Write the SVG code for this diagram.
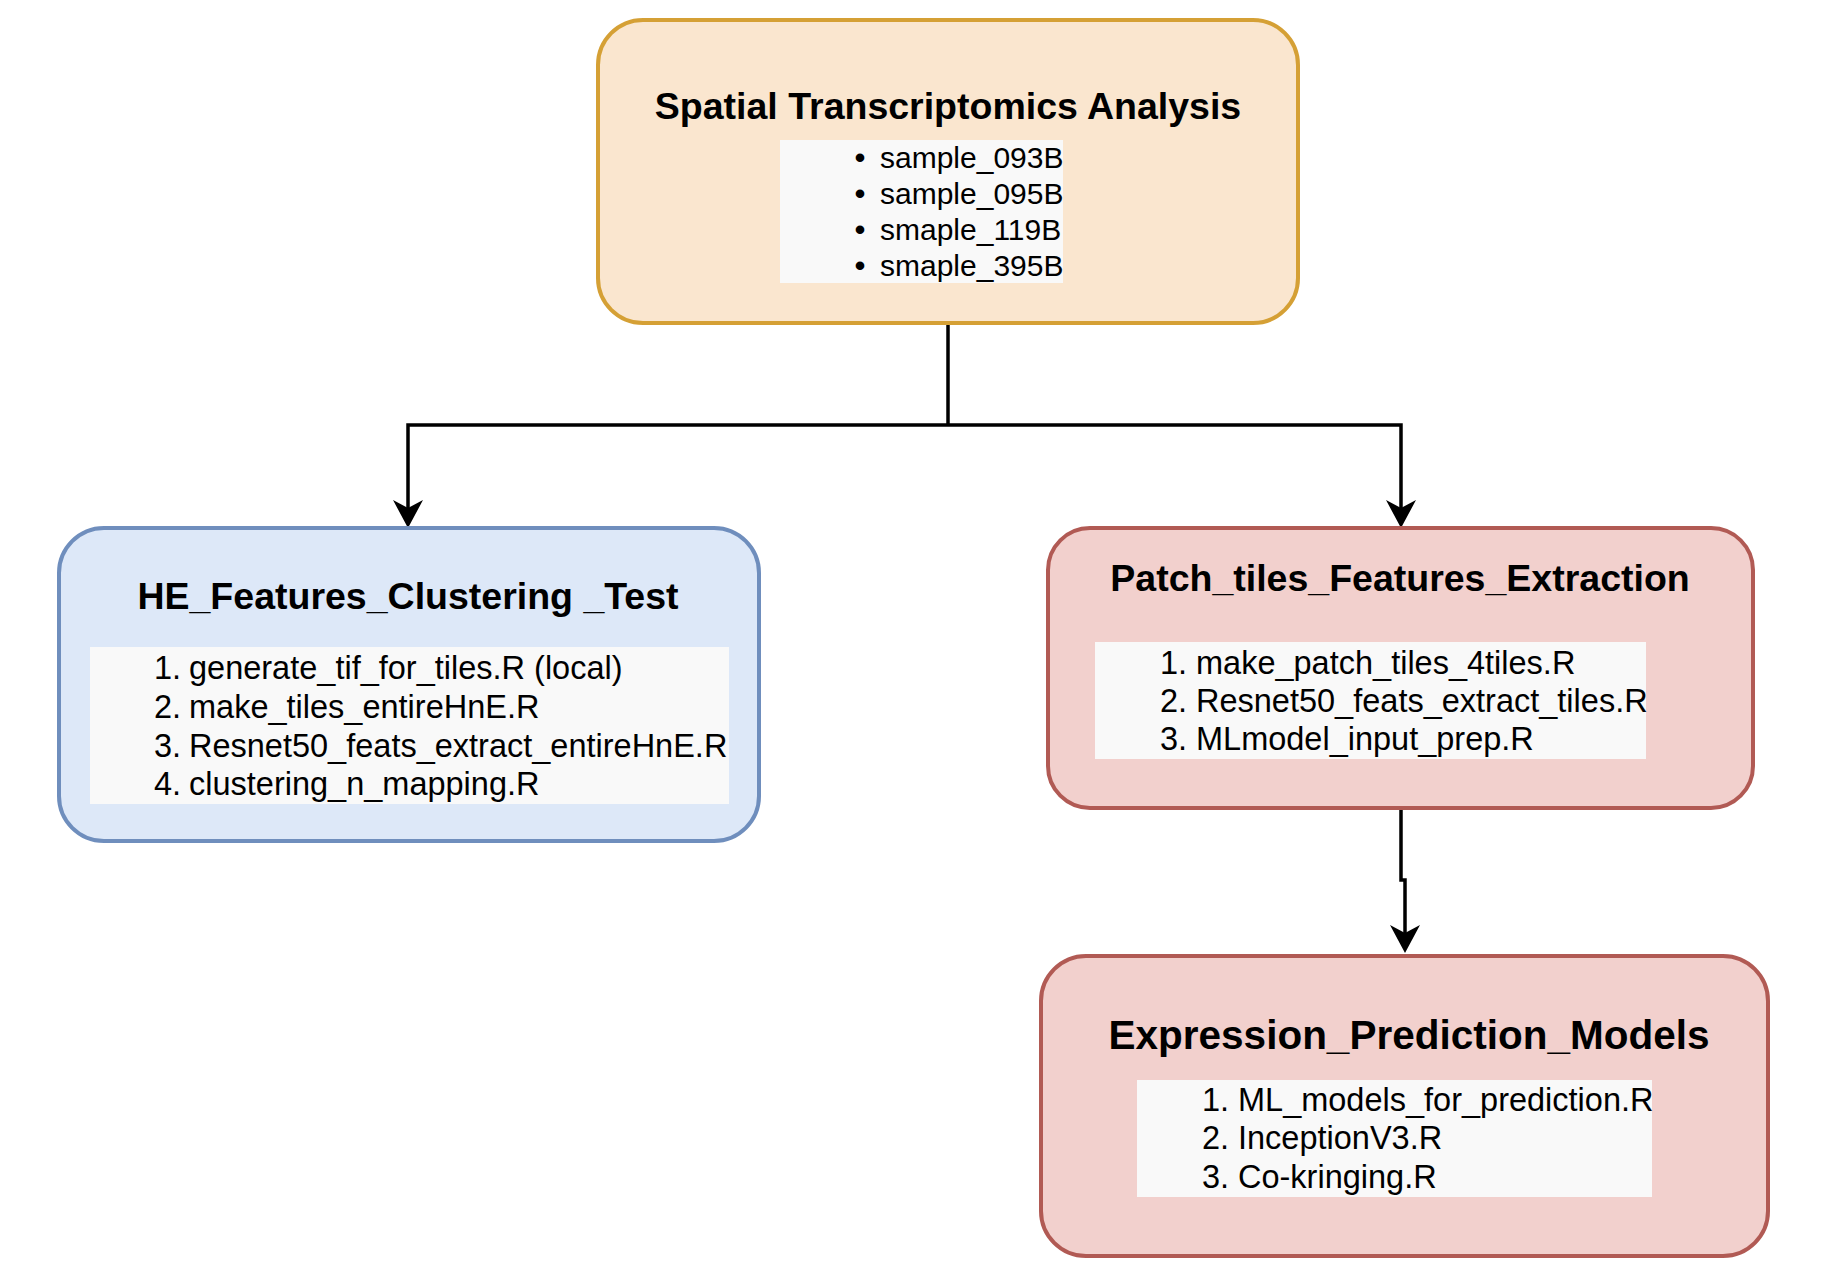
<svg xmlns="http://www.w3.org/2000/svg" width="1840" height="1274" viewBox="0 0 1840 1274">
<defs>
<style>
.title{font-family:"Liberation Sans",Arial,Helvetica,sans-serif;font-weight:bold;font-size:37.5px;fill:#000;text-anchor:middle}
.title-lg{font-size:40.5px}
.item{font-family:"Liberation Sans",Arial,Helvetica,sans-serif;font-size:30px;fill:#000}
.num{font-family:"Liberation Sans",Arial,Helvetica,sans-serif;font-size:30px;fill:#000;text-anchor:end}
.bullet{font-family:"Liberation Sans",Arial,Helvetica,sans-serif;font-size:30px;font-weight:bold;fill:#000;text-anchor:middle}
.lg{font-size:32.5px}
.listbox{fill:#f9f9f9;stroke:none}
.orange{fill:#fae6cf;stroke:#d5a035;stroke-width:4}
.blue{fill:#dde8f8;stroke:#6f8ebd;stroke-width:4}
.red{fill:#f2d0cd;stroke:#b15a54;stroke-width:4}
.edge{fill:none;stroke:#000;stroke-width:3.5}
</style>
<marker id="arrow" viewBox="0 0 28 30" refX="8" refY="15" markerWidth="28" markerHeight="30" markerUnits="userSpaceOnUse" orient="auto">
<path d="M0,0 L28,15 L0,30 L8,15 Z" fill="#000"/>
</marker>
</defs>
<rect width="1840" height="1274" fill="#fff"/>
<g id="connectors">
<path class="edge" d="M948,323 V425"/>
<path class="edge" d="M948,425 H408 V508" marker-end="url(#arrow)"/>
<path class="edge" d="M948,425 H1401 V508" marker-end="url(#arrow)"/>
<path class="edge" d="M1401,808 V880 H1405 V933" marker-end="url(#arrow)"/>
</g>
<g id="node-spatial">
<rect class="orange" x="598" y="20" width="700" height="303" rx="45" ry="45"/>
<text class="title" x="948" y="119">Spatial Transcriptomics Analysis</text>
<rect class="listbox" x="780" y="140" width="283" height="143"/>
<text class="bullet" x="860" y="168">•</text><text class="item" x="880" y="168">sample_093B</text>
<text class="bullet" x="860" y="204">•</text><text class="item" x="880" y="204">sample_095B</text>
<text class="bullet" x="860" y="240">•</text><text class="item" x="880" y="240">smaple_119B</text>
<text class="bullet" x="860" y="276">•</text><text class="item" x="880" y="276">smaple_395B</text>
</g>
<g id="node-he">
<rect class="blue" x="59" y="528" width="700" height="313" rx="45" ry="45"/>
<text class="title" x="408" y="609">HE_Features_Clustering _Test</text>
<rect class="listbox" x="90" y="647" width="639" height="157"/>
<text class="num lg" x="181" y="679">1.</text><text class="item lg" x="189" y="679">generate_tif_for_tiles.R (local)</text>
<text class="num lg" x="181" y="718">2.</text><text class="item lg" x="189" y="718">make_tiles_entireHnE.R</text>
<text class="num lg" x="181" y="757">3.</text><text class="item lg" x="189" y="757">Resnet50_feats_extract_entireHnE.R</text>
<text class="num lg" x="181" y="795">4.</text><text class="item lg" x="189" y="795">clustering_n_mapping.R</text>
</g>
<g id="node-patch">
<rect class="red" x="1048" y="528" width="705" height="280" rx="42" ry="42"/>
<text class="title" x="1400" y="591">Patch_tiles_Features_Extraction</text>
<rect class="listbox" x="1095" y="642" width="551" height="117"/>
<text class="num lg" x="1187" y="674">1.</text><text class="item lg" x="1196" y="674">make_patch_tiles_4tiles.R</text>
<text class="num lg" x="1187" y="712">2.</text><text class="item lg" x="1196" y="712">Resnet50_feats_extract_tiles.R</text>
<text class="num lg" x="1187" y="750">3.</text><text class="item lg" x="1196" y="750">MLmodel_input_prep.R</text>
</g>
<g id="node-expression">
<rect class="red" x="1041" y="956" width="727" height="300" rx="45" ry="45"/>
<text class="title title-lg" x="1409" y="1049">Expression_Prediction_Models</text>
<rect class="listbox" x="1137" y="1080" width="515" height="117"/>
<text class="num lg" x="1229" y="1111">1.</text><text class="item lg" x="1238" y="1111">ML_models_for_prediction.R</text>
<text class="num lg" x="1229" y="1149">2.</text><text class="item lg" x="1238" y="1149">InceptionV3.R</text>
<text class="num lg" x="1229" y="1188">3.</text><text class="item lg" x="1238" y="1188">Co-kringing.R</text>
</g>
</svg>
